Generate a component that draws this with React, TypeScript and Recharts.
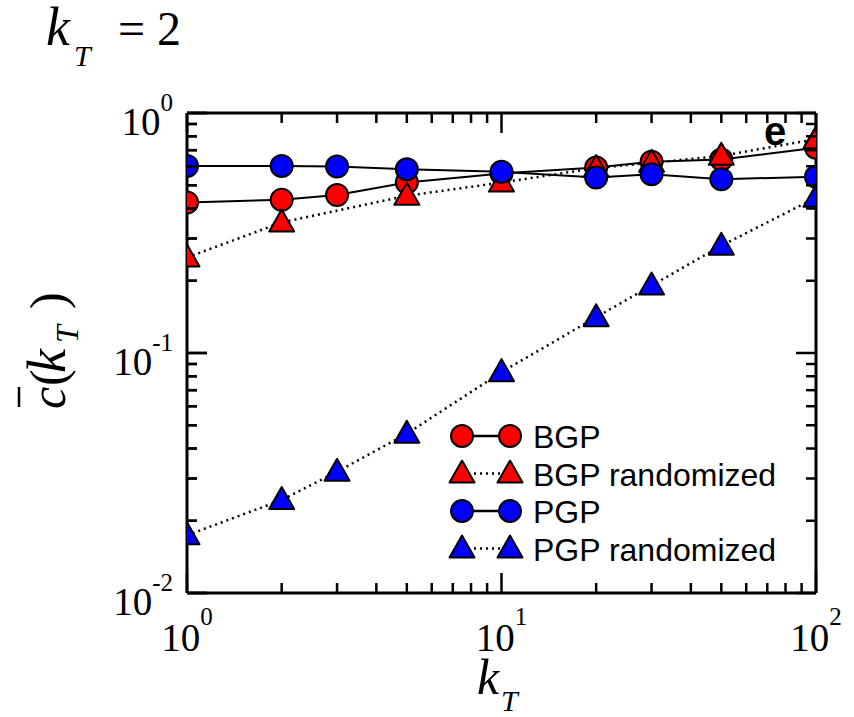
import { LineChart, Line, XAxis, YAxis } from "recharts";

// k_T values
const kBGP = [1, 2, 3, 5, 10, 20, 30, 50, 100];
const cBGP = [0.424, 0.435, 0.455, 0.513, 0.56, 0.593, 0.626, 0.64, 0.717];
const kBGPRand = [1, 2, 5, 10, 20, 30, 50, 100];
const cBGPRand = [0.25, 0.35, 0.452, 0.513, 0.59, 0.62, 0.663, 0.778];
const kPGP = [1, 2, 3, 5, 10, 20, 30, 50, 100];
const cPGP = [0.602, 0.602, 0.598, 0.583, 0.569, 0.538, 0.556, 0.53, 0.542];
const kPGPRand = [1, 2, 3, 5, 10, 20, 30, 50, 100];
const cPGPRand = [0.0174, 0.0244, 0.032, 0.0461, 0.0832, 0.141, 0.191, 0.28, 0.444];

const xDecades = [1, 10, 100];
const yDecades = [0.01, 0.1, 1];
const legendNames = ["BGP", "BGP randomized", "PGP", "PGP randomized"];

const RED = "#ff0000";
const BLUE = "#0000ff";
const SERIF = "'Liberation Serif', 'Times New Roman', serif";
const SANS = "'Liberation Sans', Arial, sans-serif";
const PLOT_LEFT = 187;

const zip = (ks: number[], vs: number[]) => ks.map((k, i) => ({ k, v: vs[i] }));

const minorTicks = (decades: number[]) => {
  const out: number[] = [];
  decades.forEach((d, i) => {
    if (i === decades.length - 1) {
      out.push(d);
      return;
    }
    for (let m = 1; m < 10; m++) out.push(+(d * m).toPrecision(3));
  });
  return out;
};
const xTicks = minorTicks(xDecades);
const yTicks = minorTicks(yDecades);

const isMajor = (v: number) => Math.abs(Math.log10(v) - Math.round(Math.log10(v))) < 1e-6;
const expOf = (v: number) => Math.round(Math.log10(v));

const MAJOR = 20;
const MINOR = 10;

function BottomTick(props: any) {
  const { x, y, payload } = props;
  const major = isMajor(payload.value);
  return (
    <g>
      <line x1={x} x2={x} y1={y} y2={y - (major ? MAJOR : MINOR)} stroke="#000" strokeWidth={2.5} />
      {major && (
        <text x={x} y={y + 58} textAnchor="middle" fontFamily={SERIF} fontSize={39} fill="#000">
          10
          <tspan dy={-26} fontSize={25}>{expOf(payload.value)}</tspan>
        </text>
      )}
    </g>
  );
}

function TopTick(props: any) {
  const { x, y, payload } = props;
  const major = isMajor(payload.value);
  return (
    <g>
      <line x1={x} x2={x} y1={y} y2={y + (major ? MAJOR : MINOR)} stroke="#000" strokeWidth={2.5} />
    </g>
  );
}

function LeftTick(props: any) {
  const { y, payload } = props;
  const major = isMajor(payload.value);
  return (
    <g>
      <line x1={PLOT_LEFT} x2={PLOT_LEFT + (major ? MAJOR : MINOR)} y1={y} y2={y} stroke="#000" strokeWidth={2.5} />
      {major && (
        <text x={PLOT_LEFT - 14} y={y + 22} textAnchor="end" fontFamily={SERIF} fontSize={39} fill="#000">
          10
          <tspan dy={-24} fontSize={25}>{expOf(payload.value)}</tspan>
        </text>
      )}
    </g>
  );
}

// also mirrors the inward ticks on the left edge
function RightTick(props: any) {
  const { x, y, payload } = props;
  const len = isMajor(payload.value) ? MAJOR : MINOR;
  return (
    <g>
      <line x1={x} x2={x - len} y1={y} y2={y} stroke="#000" strokeWidth={2.5} />
      <line x1={PLOT_LEFT} x2={PLOT_LEFT + len} y1={y} y2={y} stroke="#000" strokeWidth={2.5} />
    </g>
  );
}

const circleDot = (fill: string) => ({ r: 11, fill, stroke: "#000", strokeWidth: 2 });

const triangle = (cx: number, cy: number, fill: string, key?: any) => (
  <polygon
    key={key}
    points={`${cx},${cy - 13} ${cx - 12.5},${cy + 9} ${cx + 12.5},${cy + 9}`}
    fill={fill}
    stroke="#000"
    strokeWidth={2}
    strokeLinejoin="round"
  />
);

const triangleDot = (fill: string) => (p: any) => triangle(p.cx, p.cy, fill, `t-${p.index}`);

function LegendBox({ x, y }: { x: number; y: number }) {
  const rows = [
    { name: legendNames[0], fill: RED, tri: false },
    { name: legendNames[1], fill: RED, tri: true },
    { name: legendNames[2], fill: BLUE, tri: false },
    { name: legendNames[3], fill: BLUE, tri: true },
  ];
  return (
    <g transform={`translate(${x}, ${y})`}>
      {rows.map((r, i) => {
        const cy = i * 37.5;
        return (
          <g key={r.name}>
            <line
              x1={0}
              x2={48}
              y1={cy}
              y2={cy}
              stroke="#000"
              strokeWidth={2.5}
              strokeDasharray={r.tri ? "2 4" : undefined}
            />
            {r.tri ? (
              <>
                {triangle(0, cy, r.fill)}
                {triangle(48, cy, r.fill)}
              </>
            ) : (
              <>
                <circle cx={0} cy={cy} r={11} fill={r.fill} stroke="#000" strokeWidth={2} />
                <circle cx={48} cy={cy} r={11} fill={r.fill} stroke="#000" strokeWidth={2} />
              </>
            )}
            <text x={71} y={cy + 12} fontFamily={SANS} fontSize={32} fill="#000">
              {r.name}
            </text>
          </g>
        );
      })}
    </g>
  );
}

export default function App() {
  return (
    <div style={{ position: "absolute", left: 0, top: 0, width: 854, height: 717, background: "#fff" }}>
      <LineChart width={854} height={717} margin={{ top: 112, right: 37, bottom: 0, left: 0 }}>
        <XAxis
          xAxisId="b"
          dataKey="k"
          type="number"
          scale="log"
          domain={[1, 100]}
          ticks={xTicks}
          interval={0}
          orientation="bottom"
          height={124}
          tickSize={0}
          tickMargin={0}
          tick={<BottomTick />}
          axisLine={{ stroke: "#000", strokeWidth: 3 }}
          allowDataOverflow
        />
        <XAxis
          xAxisId="t"
          dataKey="k"
          type="number"
          scale="log"
          domain={[1, 100]}
          ticks={xTicks}
          interval={0}
          orientation="top"
          height={1}
          tickSize={0}
          tickMargin={0}
          tick={<TopTick />}
          axisLine={{ stroke: "#000", strokeWidth: 3 }}
          allowDataOverflow
        />
        <YAxis
          yAxisId="l"
          dataKey="v"
          type="number"
          scale="log"
          domain={[0.01, 1]}
          ticks={yTicks}
          interval={0}
          orientation="left"
          width={187}
          tickSize={0}
          tickMargin={0}
          tick={<LeftTick />}
          axisLine={{ stroke: "#000", strokeWidth: 3 }}
          allowDataOverflow
        />
        <YAxis
          yAxisId="r"
          dataKey="v"
          type="number"
          scale="log"
          domain={[0.01, 1]}
          ticks={yTicks}
          interval={0}
          orientation="right"
          width={1}
          tickSize={0}
          tickMargin={0}
          tick={<RightTick />}
          axisLine={{ stroke: "#000", strokeWidth: 3 }}
          allowDataOverflow
        />
        <Line
          xAxisId="b"
          yAxisId="l"
          data={zip(kBGP, cBGP)}
          dataKey="v"
          name="BGP"
          stroke="#000"
          strokeWidth={2}
          dot={circleDot(RED)}
          isAnimationActive={false}
        />
        <Line
          xAxisId="b"
          yAxisId="l"
          data={zip(kBGPRand, cBGPRand)}
          dataKey="v"
          name="BGP randomized"
          stroke="#000"
          strokeWidth={2.5}
          strokeDasharray="2 4"
          dot={triangleDot(RED)}
          isAnimationActive={false}
        />
        <Line
          xAxisId="b"
          yAxisId="l"
          data={zip(kPGPRand, cPGPRand)}
          dataKey="v"
          name="PGP randomized"
          stroke="#000"
          strokeWidth={2.5}
          strokeDasharray="2 4"
          dot={triangleDot(BLUE)}
          isAnimationActive={false}
        />
        <Line
          xAxisId="b"
          yAxisId="l"
          data={zip(kPGP, cPGP)}
          dataKey="v"
          name="PGP"
          stroke="#000"
          strokeWidth={2}
          dot={circleDot(BLUE)}
          isAnimationActive={false}
        />
      </LineChart>
      <svg width={854} height={717} style={{ position: "absolute", left: 0, top: 0, pointerEvents: "none" }}>
        <LegendBox x={462} y={436} />
        {/* panel title */}
        <text y={45} fontFamily={SERIF} fontSize={48} fill="#000">
          <tspan x={46} fontStyle="italic" fontSize={54}>k</tspan>
          <tspan x={74} dy={21} fontSize={30} fontStyle="italic">T</tspan>
          <tspan x={118} dy={-21}>= 2</tspan>
        </text>
        {/* panel letter */}
        <text x={764} y={145} fontFamily={SANS} fontWeight="bold" fontSize={40} fill="#000">
          e
        </text>
        {/* x label */}
        <text y={694} fontFamily={SERIF} fontSize={50} fill="#000">
          <tspan x={477} fontStyle="italic">k</tspan>
          <tspan x={501} dy={17} fontSize={30} fontStyle="italic">T</tspan>
        </text>
        {/* y label */}
        <g transform="translate(65, 409) rotate(-90)">
          <line x1={2} x2={22} y1={-46} y2={-46} stroke="#000" strokeWidth={2.5} />
          <text y={0} fontFamily={SERIF} fontSize={50} fill="#000">
            <tspan x={0} fontStyle="italic">c</tspan>
            <tspan x={23}>(</tspan>
            <tspan x={36} fontStyle="italic" fontSize={54}>k</tspan>
            <tspan x={66} dy={13} fontSize={32} fontStyle="italic">T</tspan>
            <tspan x={100} dy={-13}>)</tspan>
          </text>
        </g>
      </svg>
    </div>
  );
}
